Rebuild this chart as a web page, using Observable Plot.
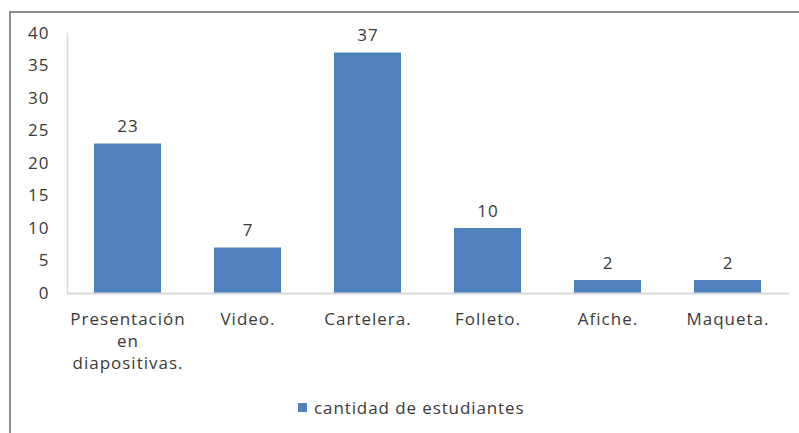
<!DOCTYPE html>
<html><head><meta charset="utf-8">
<script src="https://cdn.jsdelivr.net/npm/d3@7"></script>
<script src="https://cdn.jsdelivr.net/npm/@observablehq/plot@0.6"></script>
<style>
body{margin:0;background:#fff;width:799px;height:433px;overflow:hidden;position:relative;font-family:"Open Sans",sans-serif;}
#frame{position:absolute;left:9px;top:11px;width:800px;height:440px;border:2px solid #8e8e8e;box-sizing:border-box;}
#chart{position:absolute;left:0;top:0;}
#legend{position:absolute;left:298px;top:396px;font-size:17px;letter-spacing:0.9px;color:#3a3a3a;display:flex;align-items:center;}
#legend span.sw{display:inline-block;width:9px;height:9px;background:#4f81bd;margin-right:7px;}
</style></head>
<body>
<div id="frame"></div>
<div id="chart"></div>
<div id="legend"><span class="sw"></span><span>cantidad de estudiantes</span></div>
<script>
const categories = ["Presentación en diapositivas.", "Video.", "Cartelera.", "Folleto.", "Afiche.", "Maqueta."];
const values = [23, 7, 37, 10, 2, 2];
const yTicks = [0, 5, 10, 15, 20, 25, 30, 35, 40];
const seriesName = "cantidad de estudiantes";

const data = categories.map((c, i) => ({category: c, value: values[i]}));

const chart = Plot.plot({
  width: 799,
  height: 385,
  marginLeft: 67,
  marginRight: 10,
  marginTop: 33,
  marginBottom: 92,
  style: {fontFamily: "Open Sans, sans-serif", fontSize: "17px", color: "#3a3a3a", background: "transparent", letterSpacing: "1px"},
  x: {domain: categories, paddingInner: 0.44, paddingOuter: 0.22, label: null},
  y: {domain: [0, 40], label: null},
  marks: [
    Plot.frame({anchor: "left", stroke: "#d9d9d9", strokeWidth: 1.5}),
    Plot.barY(data, {x: "category", y: "value", fill: "#4f81bd"}),
    Plot.ruleY([0], {stroke: "#d9d9d9", strokeWidth: 2}),
    Plot.text(data, {x: "category", y: "value", text: d => String(d.value), dy: -17, fill: "#3a3a3a", fontSize: 17}),
    Plot.axisY({ticks: yTicks, tickSize: 0, tickPadding: 18, fill: "#3a3a3a", fontSize: 17}),
    Plot.axisX({tickSize: 0, tickPadding: 16, lineHeight: 1.3, fill: "#3a3a3a", fontSize: 17,
      tickFormat: d => d.replace(" en ", "\nen\n")})
  ]
});
document.getElementById("chart").appendChild(chart);
</script>
</body></html>
